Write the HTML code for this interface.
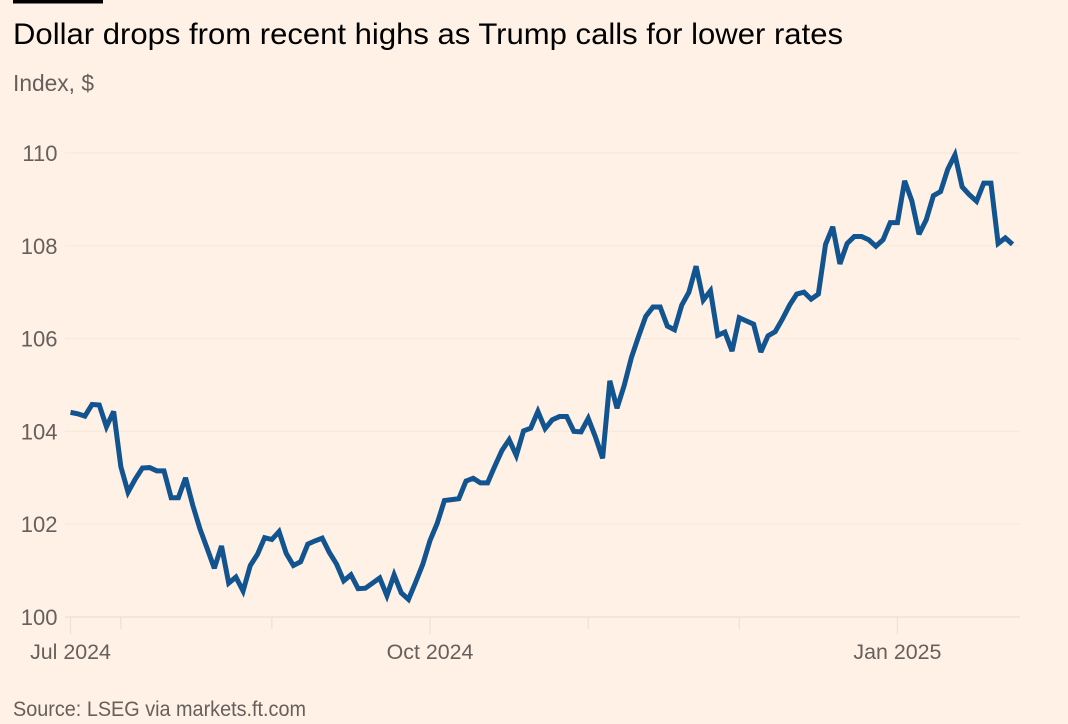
<!DOCTYPE html>
<html lang="en">
<head>
<meta charset="utf-8">
<title>Dollar drops from recent highs as Trump calls for lower rates</title>
<style>
  html, body { margin: 0; padding: 0; background: #fff1e5; }
  body { width: 1068px; height: 724px; overflow: hidden; }
  svg { display: block; font-family: "Liberation Sans", sans-serif; }
</style>
</head>
<body>
<svg id="chart" xmlns="http://www.w3.org/2000/svg" width="1068" height="724" viewBox="0 0 1068 724">
  <rect x="0" y="0" width="1068" height="724" fill="#fff1e5"></rect>
  <rect x="13" y="0" width="90" height="3.5" fill="#000000"></rect>
  <text x="13" y="44" font-size="30" fill="#000000" textLength="830" lengthAdjust="spacingAndGlyphs">Dollar drops from recent highs as Trump calls for lower rates</text>
  <text x="13" y="91" font-size="23" fill="#66605c" textLength="81" lengthAdjust="spacingAndGlyphs">Index, $</text>
  <g id="grid"></g>
  <g id="xaxis"></g>
  <g id="yaxis"></g>
  <path id="line" fill="none" stroke="#11548f" stroke-width="5" stroke-linejoin="miter" stroke-miterlimit="3" stroke-linecap="butt"></path>
  <text x="13" y="716" font-size="21" fill="#66605c" textLength="293" lengthAdjust="spacingAndGlyphs">Source: LSEG via markets.ft.com</text>
</svg>
<script>
const indexValues = [
  104.41,104.38,104.33,104.58,104.57,104.10,104.43,103.24,102.69,102.97,
  103.21,103.22,103.15,103.15,102.57,102.57,103.00,102.41,101.90,101.48,
  101.05,101.53,100.73,100.86,100.56,101.11,101.35,101.71,101.67,101.84,
  101.37,101.11,101.19,101.57,101.64,101.70,101.39,101.14,100.78,100.91,
  100.61,100.62,100.73,100.84,100.46,100.91,100.52,100.38,100.75,101.14,
  101.65,102.02,102.51,102.53,102.55,102.93,102.99,102.89,102.89,103.25,
  103.59,103.82,103.48,104.01,104.07,104.43,104.06,104.25,104.32,104.32,
  104.00,103.99,104.28,103.88,103.42,105.09,104.50,104.99,105.59,106.05,
  106.48,106.68,106.68,106.27,106.19,106.72,107.00,107.56,106.83,107.03,
  106.07,106.14,105.73,106.45,106.38,106.31,105.71,106.06,106.15,106.42,
  106.72,106.96,107.00,106.85,106.96,108.03,108.41,107.61,108.05,108.20,
  108.20,108.13,107.99,108.13,108.50,108.50,109.40,108.97,108.25,108.56,
  109.08,109.17,109.65,109.96,109.27,109.10,108.96,109.35,109.35,108.05,
  108.17,108.03
];
const yTickValues = [100, 102, 104, 106, 108, 110];
const xTickIndexes = [0, 7, 28, 50, 72, 93, 115];
const xTickLabels = ["Jul 2024", "", "", "Oct 2024", "", "", "Jan 2025"];

const NS = "http://www.w3.org/2000/svg";
const plotLeft = 70.5, plotRight = 1012.5, plotTop = 153, plotBottom = 617;
const axisLeft = 65, axisRight = 1020;
const yMin = 100, yMax = 110;

function xScale(i) {
  return plotLeft + i * (plotRight - plotLeft) / (indexValues.length - 1);
}
function yScale(v) {
  return plotBottom - (v - yMin) * (plotBottom - plotTop) / (yMax - yMin);
}
function make(tag, attrs, parent, text) {
  const el = document.createElementNS(NS, tag);
  Object.keys(attrs).forEach(k => el.setAttribute(k, attrs[k]));
  if (text) el.textContent = text;
  parent.appendChild(el);
  return el;
}

const grid = document.getElementById("grid");
const yaxis = document.getElementById("yaxis");
const xaxis = document.getElementById("xaxis");

yTickValues.forEach(v => {
  const y = yScale(v);
  const gl = make("line", {
    x1: axisLeft, x2: axisRight, y1: y, y2: y,
    stroke: v === yMin ? "#e9ded4" : "#f6e9de", "stroke-width": 1.2
  }, grid);
  
  
  const lbl = make("text", {
    x: 57.5, y: y + 8, "text-anchor": "end", "font-size": 22, fill: "#66605c"
  }, yaxis, String(v));
  
  
});

xTickIndexes.forEach((idx, n) => {
  const x = xScale(idx);
  const major = xTickLabels[n] !== "";
  const tk = make("line", {
    x1: x, x2: x, y1: plotBottom, y2: plotBottom + (major ? 17 : 12),
    stroke: "#ece1d7", "stroke-width": 1.2
  }, xaxis);
  
  
  if (major) {
    const lbl = make("text", {
      x: x, y: 659, "text-anchor": "middle", "font-size": 21.4, fill: "#66605c"
    }, xaxis, xTickLabels[n]);
    
    
  }
});

document.getElementById("line").setAttribute("d",
  indexValues.map((v, i) => (i ? "L" : "M") + xScale(i).toFixed(2) + " " + yScale(v).toFixed(2)).join(" ")
);
</script>
</body>
</html>
